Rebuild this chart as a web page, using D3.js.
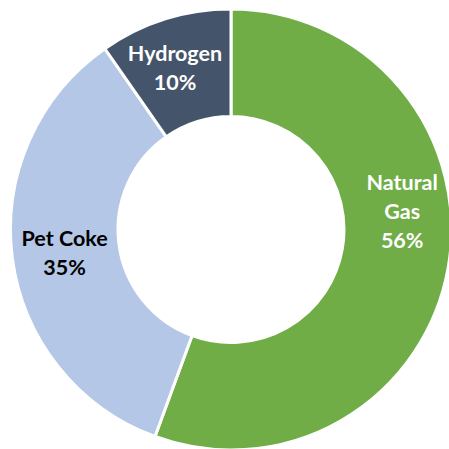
<!DOCTYPE html>
<html><head><meta charset="utf-8">
<script src="https://cdn.jsdelivr.net/npm/d3@7"></script>
<style>body{margin:0;background:#fff}svg{display:block}</style>
</head><body>
<svg id="c" width="449" height="449"></svg>
<script>
const categories = ["Natural Gas", "Pet Coke", "Hydrogen"];
const values = [55.6, 34.7, 9.7];
const colors = ["#70AD47", "#B4C7E7", "#44546A"];
const textColors = ["#ffffff", "#000000", "#ffffff"];
const labelLines = [["Natural", "Gas"], ["Pet Coke"], ["Hydrogen"]];
// label nudges from the ring centroid (layout only)
const labelNudge = [[7, -47], [-1, 2], [-6, -2]];

const svg = d3.select("#c");
const cx = 231, cy = 229.5, rOuter = 220.5, rInner = 113;
const g = svg.append("g").attr("transform", `translate(${cx},${cy})`);
const data = categories.map((c, i) => ({c, v: values[i], i}));
const pie = d3.pie().value(d => d.v).sort(null);
const arc = d3.arc().innerRadius(rInner).outerRadius(rOuter);
const arcs = pie(data);
g.selectAll("path").data(arcs).join("path")
  .attr("d", arc)
  .attr("fill", d => colors[d.data.i])
  .attr("stroke", "#fff").attr("stroke-width", 3).attr("stroke-linejoin", "miter");

const fs = 21.5, lh = 29;
arcs.forEach(a => {
  const i = a.data.i;
  const [x, y] = arc.centroid(a);
  const lines = labelLines[i].concat([Math.round(a.data.v) + "%"]);
  const x0 = x + labelNudge[i][0], y0 = y + labelNudge[i][1];
  const t = g.append("text")
    .attr("text-anchor", "middle")
    .attr("font-family", "Lato, 'Open Sans', sans-serif")
    .attr("font-weight", "bold")
    .attr("font-size", fs)
    .attr("fill", textColors[i]);
  lines.forEach((l, k) => {
    t.append("tspan").attr("x", x0)
      .attr("y", y0 + (k - (lines.length - 1) / 2) * lh)
      .attr("dy", "0.35em").text(l);
  });
});
</script>
</body></html>
